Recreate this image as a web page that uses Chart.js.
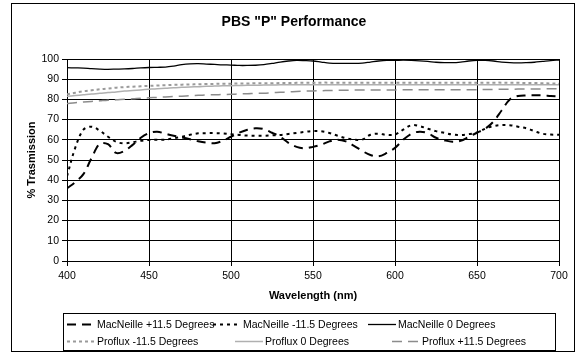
<!DOCTYPE html>
<html>
<head>
<meta charset="utf-8">
<script src="https://cdn.jsdelivr.net/npm/chart.js@4"></script>
<style>
  html, body { margin: 0; padding: 0; background: #fff; }
  #wrap { width: 577px; height: 360px; }
</style>
</head>
<body>
<div id="wrap"><canvas id="myChart" width="577" height="360"></canvas></div>
<script>
'use strict';

const chartTitle = 'PBS "P" Performance';

// wavelength (nm)
const wavelengths = [
  400, 405, 410, 415, 420, 425, 430, 435, 440, 445,
  450, 455, 460, 465, 470, 475, 480, 485, 490, 495,
  500, 505, 510, 515, 520, 525, 530, 535, 540, 545,
  550, 555, 560, 565, 570, 575, 580, 585, 590, 595,
  600, 605, 610, 615, 620, 625, 630, 635, 640, 645,
  650, 655, 660, 665, 670, 675, 680, 685, 690, 695, 700
];

const macPlus = [
  36, 39, 43, 51, 58, 57.8, 53.5, 54.5, 57.5, 61,
  63.3, 64, 63, 62, 61.2, 60.3, 59.3, 58.6, 58.3, 59.5,
  61.5, 63.5, 65, 65.7, 65.3, 63.5, 61.5, 58.5, 56.5, 55.8,
  56.5, 57.6, 59.2, 60, 59.2, 57, 54.5, 52.5, 51.8, 53.5,
  56, 60, 63, 64, 63.3, 61, 59.8, 59, 59.5, 61.5,
  63.5, 65.5, 69, 74.5, 80, 81.7, 82, 82, 82, 81.7, 81.5
];

const macMinus = [
  42, 56, 65, 66.5, 64.5, 61.5, 59, 58.2, 58.8, 59.5,
  59.9, 60, 60.1, 60.8, 61.5, 62.5, 63.2, 63.3, 63.3, 63.2,
  62.8, 62.4, 62.1, 62, 62, 62.2, 62.4, 62.9, 63.4, 63.9,
  64.3, 64.2, 63.4, 62, 60.8, 60.1, 60.1, 62.5, 63, 62.4,
  62.6, 65, 67.2, 66.8, 65.5, 64.3, 63.5, 62.6, 62.4, 62.8,
  63.6, 65.5, 66.8, 67.3, 67.2, 66.5, 65.7, 64.3, 63, 62.6, 62.5
];

const macZero = [
  95.7, 95.6, 95.5, 95.2, 95, 94.9, 95, 95.1, 95.3, 95.6,
  95.8, 95.9, 96, 96.5, 97.2, 97.6, 97.7, 97.5, 97.3, 97.1,
  97, 96.8, 96.8, 96.9, 97.2, 97.8, 98.5, 99, 99.3, 99.2,
  99, 98.5, 98, 97.8, 97.8, 97.8, 98, 98.5, 99, 99.3,
  99.3, 99.4, 99.3, 99.1, 98.8, 98.4, 98.2, 98.2, 98.5, 99,
  99.3, 99.3, 99, 98.5, 98.2, 98.1, 98.2, 98.4, 98.8, 99.2, 99.5
];

const profluxMinus = [
  82.5, 83.3, 84, 84.5, 85, 85.4, 85.8, 86.1, 86.3, 86.5,
  86.7, 86.9, 87, 87.2, 87.3, 87.4, 87.5, 87.6, 87.7, 87.8,
  87.8, 87.9, 87.9, 88, 88, 88, 88.1, 88.1, 88.2, 88.2,
  88.2, 88.3, 88.3, 88.3, 88.3, 88.3, 88.3, 88.3, 88.3, 88.3,
  88.3, 88.3, 88.3, 88.3, 88.3, 88.3, 88.3, 88.3, 88.3, 88.3,
  88.3, 88.3, 88.3, 88.3, 88.2, 88.2, 88.1, 88.1, 88, 87.9, 87.8
];

const profluxZero = [
  81.5, 81.9, 82.3, 82.7, 83, 83.4, 83.7, 84.1, 84.4, 84.7,
  85, 85.3, 85.5, 85.8, 86, 86.2, 86.3, 86.5, 86.6, 86.7,
  86.8, 86.9, 87, 87, 87.1, 87.1, 87.2, 87.2, 87.2, 87.2,
  87.2, 87.2, 87.3, 87.3, 87.3, 87.3, 87.3, 87.3, 87.3, 87.3,
  87.3, 87.3, 87.3, 87.3, 87.3, 87.3, 87.3, 87.3, 87.3, 87.3,
  87.3, 87.3, 87.3, 87.3, 87.3, 87.3, 87.3, 87.3, 87.3, 87.3, 87.3
];

const profluxPlus = [
  78, 78.4, 78.7, 79, 79.3, 79.6, 79.8, 80.1, 80.3, 80.6,
  80.8, 81, 81.2, 81.4, 81.6, 81.8, 82, 82.2, 82.3, 82.4,
  82.5, 82.7, 82.8, 83, 83.1, 83.3, 83.5, 83.7, 83.9, 84.1,
  84.2, 84.3, 84.4, 84.5, 84.5, 84.6, 84.6, 84.7, 84.7, 84.7,
  84.7, 84.8, 84.8, 84.8, 84.8, 84.8, 84.8, 84.8, 84.8, 84.8,
  84.8, 84.9, 84.9, 85, 85, 85.1, 85.1, 85.2, 85.2, 85.3, 85.3
];

const xTicks = [400, 450, 500, 550, 600, 650, 700];
const yTicks = [0, 10, 20, 30, 40, 50, 60, 70, 80, 90, 100];

const FONT = '"Liberation Sans", Arial, sans-serif';

function pts(ys) {
  return wavelengths.map((x, i) => ({ x: x, y: ys[i] }));
}

function series(label, ys, color, width, dash) {
  return {
    label: label,
    data: pts(ys),
    borderColor: color,
    backgroundColor: color,
    borderWidth: width,
    borderDash: dash,
    pointRadius: 0,
    tension: 0.35,
    fill: false
  };
}

// outer frame, title and the boxed legend
const framePlugin = {
  id: 'frame',
  afterDraw(chart) {
    const ctx = chart.ctx;
    ctx.save();
    ctx.strokeStyle = '#000';
    ctx.lineWidth = 1;
    ctx.setLineDash([]);
    ctx.strokeRect(11.5, 3.5, 563, 348);

    ctx.fillStyle = '#000';
    ctx.font = 'bold 14px ' + FONT;
    ctx.textAlign = 'center';
    ctx.textBaseline = 'middle';
    ctx.fillText(chartTitle, 294, 22);

    // legend
    ctx.strokeRect(63.5, 313.5, 492, 37);
    const slots = [
      [97, 324], [243, 324], [398, 324],
      [97, 341], [265, 341], [422, 341]
    ];
    ctx.font = '10.5px ' + FONT;
    ctx.textAlign = 'left';
    chart.data.datasets.forEach((ds, i) => {
      const [tx, ty] = slots[i];
      ctx.beginPath();
      ctx.strokeStyle = ds.borderColor;
      ctx.lineWidth = ds.borderWidth;
      ctx.setLineDash(ds.borderDash || []);
      ctx.moveTo(tx - 30, ty + 0.5);
      ctx.lineTo(tx - 2, ty + 0.5);
      ctx.stroke();
      ctx.setLineDash([]);
      ctx.fillStyle = '#000';
      ctx.fillText(ds.label, tx, ty + 1);
    });
    ctx.restore();
  }
};

const ctx = document.getElementById('myChart');

new Chart(ctx, {
  type: 'line',
  data: {
    datasets: [
      series('MacNeille +11.5 Degrees', macPlus, '#000', 2, [9, 6]),
      series('MacNeille -11.5 Degrees', macMinus, '#000', 2, [3, 4]),
      series('MacNeille 0 Degrees', macZero, '#000', 1.3, []),
      series('Proflux -11.5 Degrees', profluxMinus, '#9a9a9a', 2, [3, 3]),
      series('Proflux 0 Degrees', profluxZero, '#b0b0b0', 1.5, []),
      series('Proflux +11.5 Degrees', profluxPlus, '#8c8c8c', 1.5, [10, 6])
    ]
  },
  options: {
    responsive: false,
    animation: false,
    layout: { padding: { left: 11, right: 18, top: 59, bottom: 54 } },
    plugins: {
      legend: { display: false },
      title: { display: false },
      tooltip: { enabled: false }
    },
    scales: {
      x: {
        type: 'linear',
        min: 400,
        max: 700,
        afterBuildTicks: (scale) => { scale.ticks = xTicks.map(v => ({ value: v })); },
        afterFit: (scale) => { scale.height = 45; },
        grid: { color: '#000', lineWidth: 1, tickLength: 5 },
        border: { color: '#000' },
        ticks: { color: '#000', font: { family: FONT, size: 10.5 }, padding: 4, maxRotation: 0 },
        title: {
          display: true,
          text: 'Wavelength (nm)',
          color: '#000',
          font: { family: FONT, size: 11, weight: 'bold' },
          padding: { top: 0, bottom: 3 }
        }
      },
      y: {
        min: 0,
        max: 100,
        afterBuildTicks: (scale) => { scale.ticks = yTicks.map(v => ({ value: v })); },
        afterFit: (scale) => { scale.width = 56; },
        grid: { color: '#000', lineWidth: 1, tickLength: 5 },
        border: { color: '#000' },
        ticks: { color: '#000', font: { family: FONT, size: 10.5 }, padding: 3 },
        title: {
          display: true,
          text: '% Trasmission',
          color: '#000',
          font: { family: FONT, size: 11, weight: 'bold' },
          padding: { top: 14, bottom: 0 }
        }
      }
    }
  },
  plugins: [framePlugin]
});
</script>
</body>
</html>
